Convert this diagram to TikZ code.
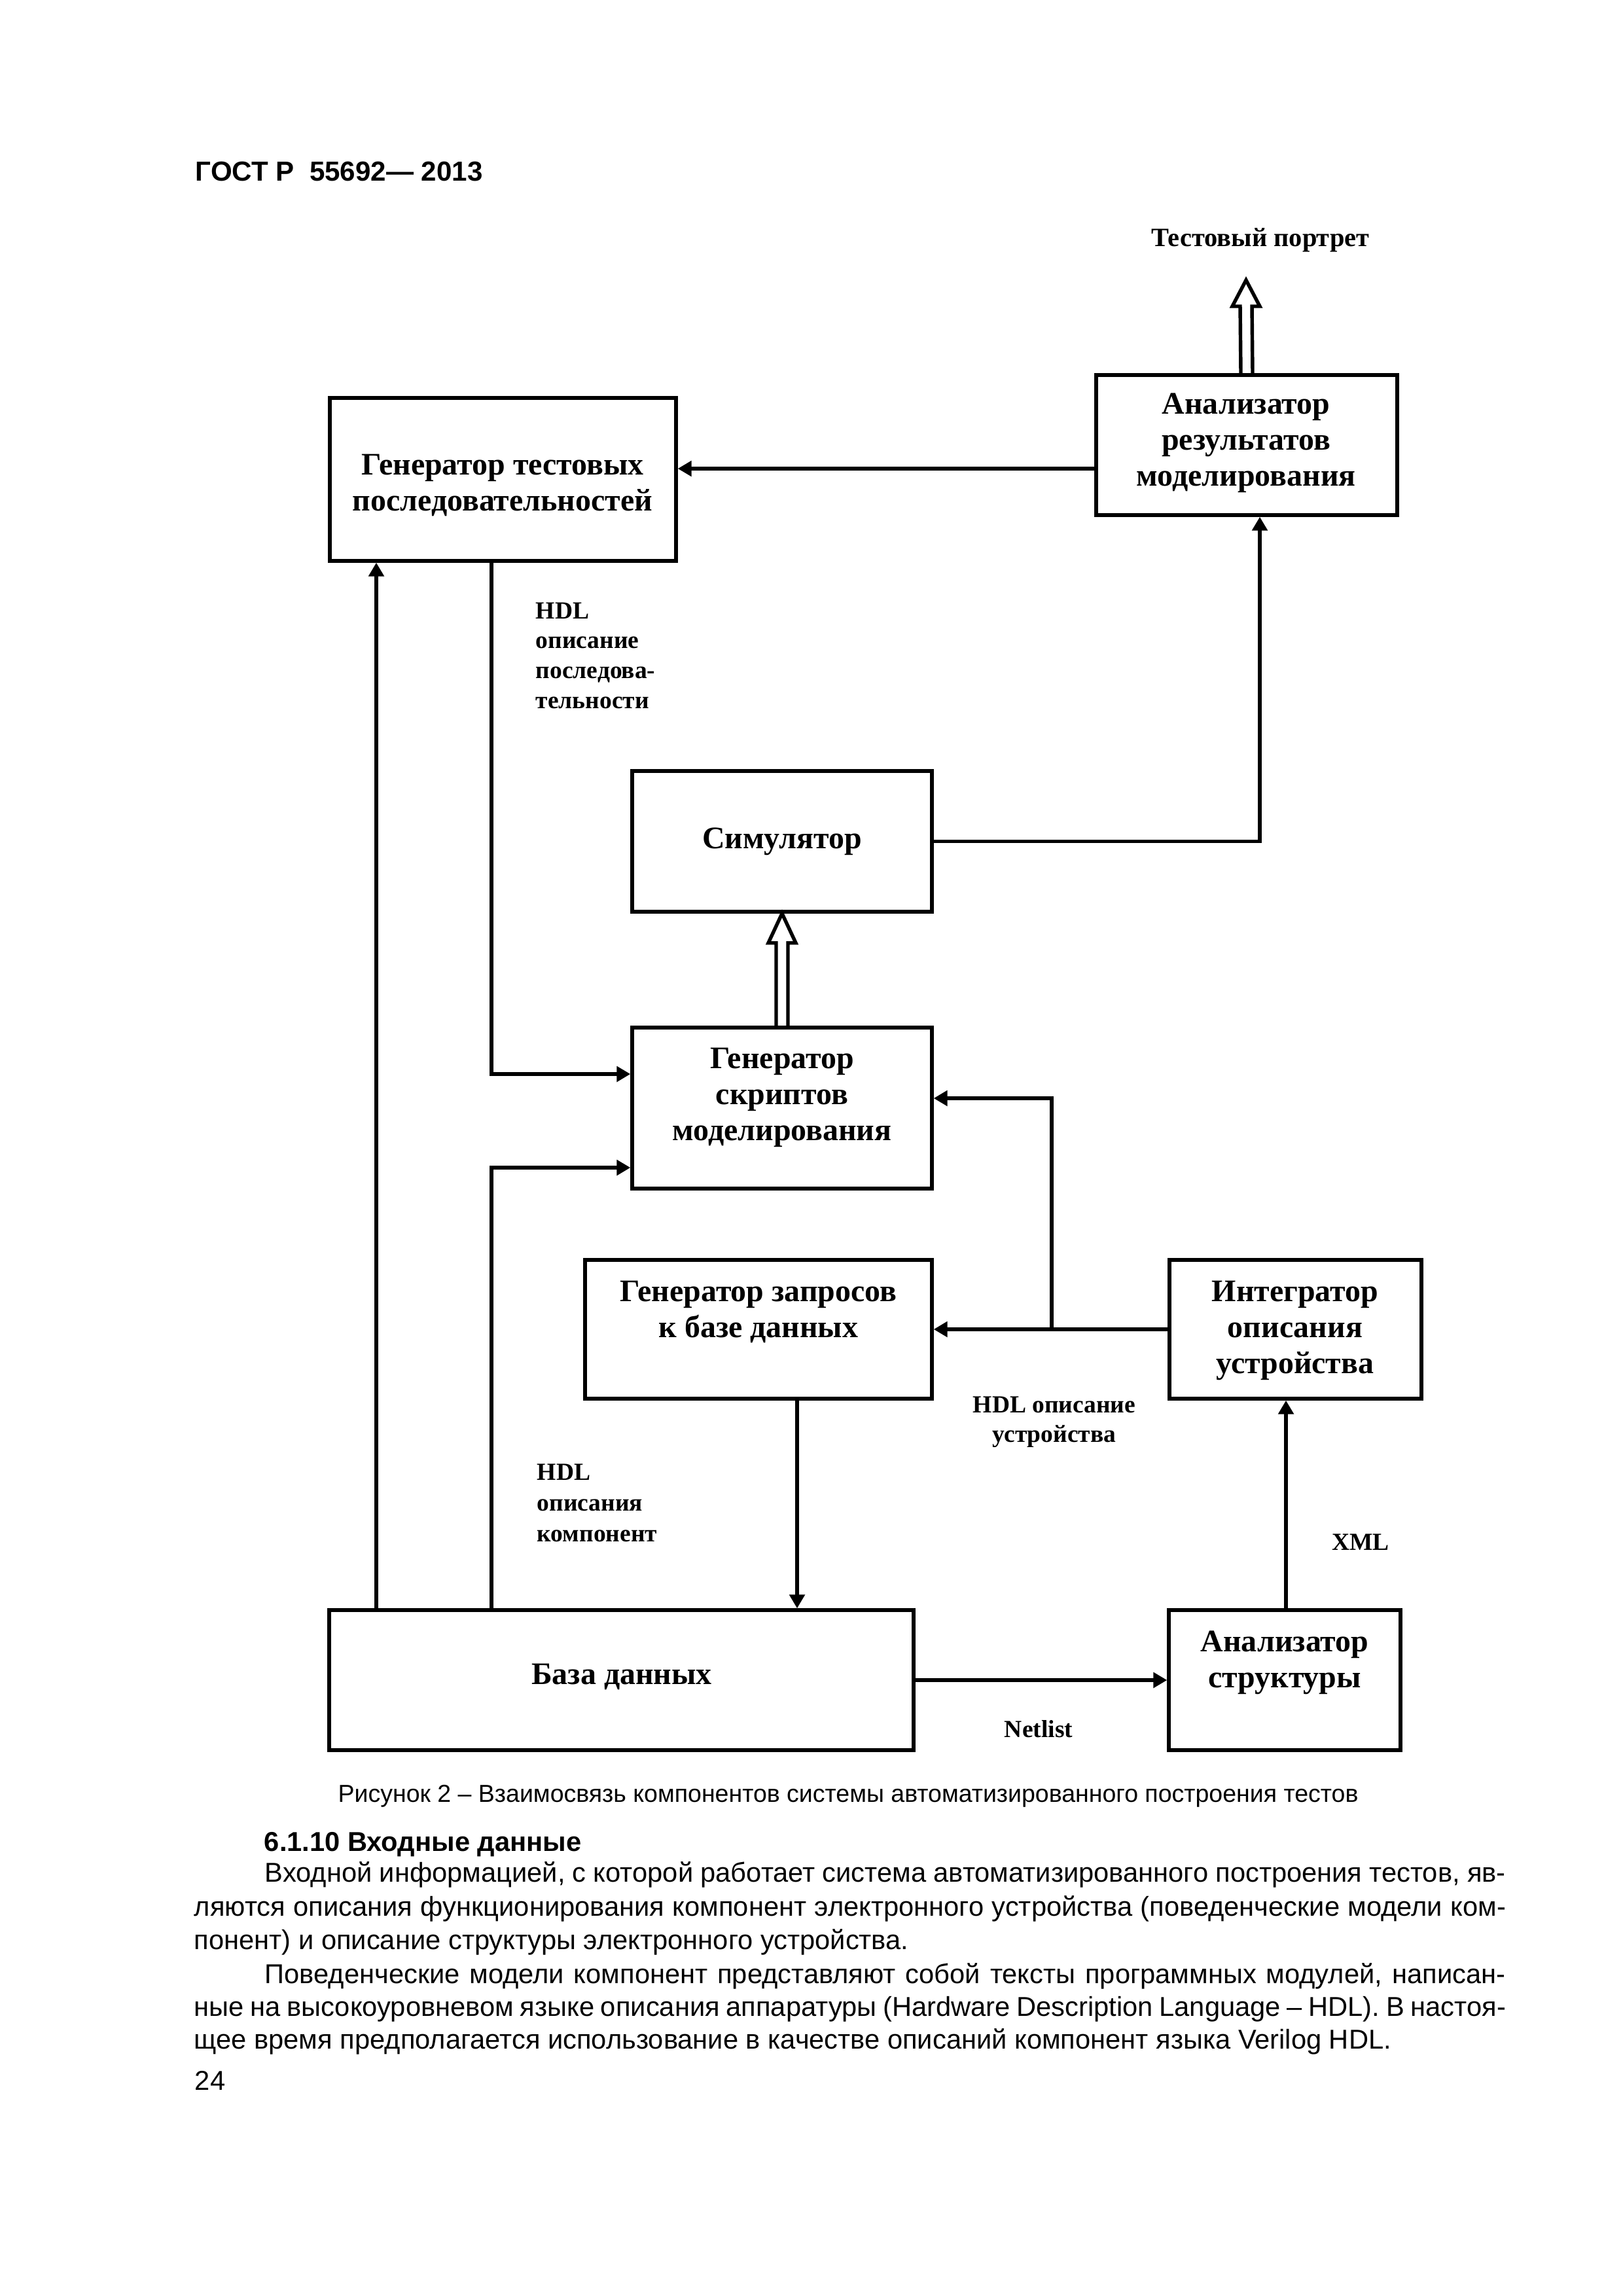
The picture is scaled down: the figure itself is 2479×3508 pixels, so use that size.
\documentclass[tikz,border=0pt]{standalone}
\usepackage{fontspec}
\setmainfont{Liberation Sans}
\newfontfamily\tnr{Liberation Serif}
\usetikzlibrary{arrows.meta,fit,calc}
\newcommand\ccol[1]{\vtop{\halign{\hfil##\hfil\cr#1\crcr}}}
\newcommand\lcol[1]{\vtop{\halign{##\hfil\cr#1\crcr}}}
\begin{document}
\begin{tikzpicture}[x=0.24pt,y=-0.24pt,
  boxst/.style={draw,line width=1.3pt,inner sep=0pt},
  btxt/.style={font=\tnr\bfseries\fontsize{11.5}{13.2}\selectfont,inner sep=0pt,anchor=base},
  lbl/.style={font=\tnr\bfseries\fontsize{9}{11}\selectfont,inner sep=0pt},
  arr/.style={line width=1.3pt,-{Triangle[length=5pt,width=5.5pt]}},
  hol/.style={line width=1.3pt,line join=miter},
  body/.style={font=\fontsize{10}{12}\selectfont,inner sep=0pt,anchor=base west}]
\fill[white] (0,0) rectangle (2479,3508);
\useasboundingbox (0,0) rectangle (2479,3508);

% header
\node[font=\bfseries\fontsize{10.1}{12}\selectfont,inner sep=0pt,anchor=base west] (hdr) at (298,277) {ГОСТ Р~~55692— 2013};

% boxes
\node[boxst,fit={(504,608) (1033,857)}] (gts) {};
\node[boxst,fit={(1675,573) (2135,787)}] (ana) {};
\node[boxst,fit={(966,1178) (1424,1393)}] (sim) {};
\node[boxst,fit={(966,1570) (1424,1816)}] (gss) {};
\node[boxst,fit={(894,1925) (1424,2137)}] (gzp) {};
\node[boxst,fit={(1787,1925) (2172,2137)}] (integ) {};
\node[boxst,fit={(503,2460) (1396,2674)}] (db) {};
\node[boxst,fit={(1786,2460) (2140,2674)}] (ast) {};

% box texts
\node[btxt] (gts-t) at (768,726) {\ccol{Генератор тестовых\cr последовательностей}};
\node[btxt] (ana-t) at (1904,633) {\ccol{Анализатор\cr результатов\cr моделирования}};
\node[btxt] (sim-t) at (1195,1296) {Симулятор};
\node[btxt] (gss-t) at (1195,1632) {\ccol{Генератор\cr скриптов\cr моделирования}};
\node[btxt] (gzp-t) at (1159,1988) {\ccol{Генератор запросов\cr к базе данных}};
\node[btxt] (integ-t) at (1979,1988) {\ccol{Интегратор\cr описания\cr устройства}};
\node[btxt] (db-t) at (950,2573) {База данных};
\node[btxt] (ast-t) at (1963,2523) {\ccol{Анализатор\cr структуры}};

% helper coordinates
\coordinate (y716) at (0,716);
\coordinate (y1641) at (0,1641);
\coordinate (y1784) at (0,1784);
\coordinate (y1678) at (0,1678);
\coordinate (x575) at (575,0);
\coordinate (x751) at (751,0);
\coordinate (x1218) at (1218,0);
\coordinate (x1607) at (1607,0);
\coordinate (x1925) at (1925,0);
\coordinate (x1965) at (1965,0);
\coordinate (tip) at (1904,428);

% connectors
\draw[arr] (ana.west |- y716) -- (gts.east |- y716);
\draw[arr] (sim.east) -- (sim.east -| x1925) -- (ana.south -| x1925);
\draw[arr] (gts.south -| x751) -- (x751 |- y1641) -- (gss.west |- y1641);
\draw[arr] (db.north -| x575) -- (gts.south -| x575);
\draw[arr] (db.north -| x751) -- (x751 |- y1784) -- (gss.west |- y1784);
\draw[arr] (integ.west) -- (gzp.east |- integ.west);
\draw[arr] (x1607 |- integ.west) -- (x1607 |- y1678) -- (gss.east |- y1678);
\draw[arr] (gzp.south -| x1218) -- (db.north -| x1218);
\draw[arr] (db.east) -- (ast.west);
\draw[arr] (ast.north -| x1965) -- (integ.south -| x1965);

% hollow arrows
\draw[hol] ($(ana.north)+(-9,0)$) -- ($(tip)+(-9,40)$) -- ($(tip)+(-21,40)$) -- (tip)
  -- ($(tip)+(21,40)$) -- ($(tip)+(9,40)$) -- ($(ana.north)+(9,0)$);
\draw[hol] ($(gss.north)+(-9,0)$) -- ($(sim.south)+(-9,45)$) -- ($(sim.south)+(-21,45)$) -- (sim.south)
  -- ($(sim.south)+(21,45)$) -- ($(sim.south)+(9,45)$) -- ($(gss.north)+(9,0)$);

% labels
\node[lbl,font=\tnr\bfseries\fontsize{9.7}{11}\selectfont,anchor=base] (tp) at (1926,377) {Тестовый портрет};
\node[lbl,anchor=base west] (l1) at (818,945) {\lcol{HDL\cr описание\cr последова-\cr тельности}};
\node[lbl,anchor=base west,font=\tnr\bfseries\fontsize{9}{11.3}\selectfont] (l2) at (820,2261) {\lcol{HDL\cr описания\cr компонент}};
\node[lbl,anchor=base] (l3) at (1611,2158) {\ccol{HDL описание\cr устройства}};
\node[lbl,anchor=base] (l4) at (2079,2368) {XML};
\node[lbl,anchor=base] (l5) at (1587,2654) {Netlist};

% caption and text
\node[font=\fontsize{9}{11}\selectfont,inner sep=0pt,anchor=base] (cap) at (1296,2753) {Рисунок 2 – Взаимосвязь компонентов системы автоматизированного построения тестов};
\node[body,font=\bfseries\fontsize{10}{12}\selectfont] (h) at (403,2828) {6.1.10 Входные данные};
\node[body] (p1) at (404,2875) {\makebox[455pt][s]{Входной информацией, с которой работает система автоматизированного построения тестов, яв-}};
\node[body] (p2) at (296,2927) {\makebox[481pt][s]{ляются описания функционирования компонент электронного устройства (поведенческие модели ком-}};
\node[body] (p3) at (296,2978) {понент) и описание структуры электронного устройства.};
\node[body] (p4) at (404,3030) {\makebox[455pt][s]{Поведенческие модели компонент представляют собой тексты программных модулей, написан-}};
\node[body] (p5) at (296,3080) {\makebox[481pt][s]{ные на высокоуровневом языке описания аппаратуры (Hardware Description Language – HDL). В настоя-}};
\node[body] (p6) at (296,3130) {щее время предполагается использование в качестве описаний компонент языка Verilog HDL.};
\node[body] (pg) at (297,3193) {24};
\end{tikzpicture}
\end{document}
